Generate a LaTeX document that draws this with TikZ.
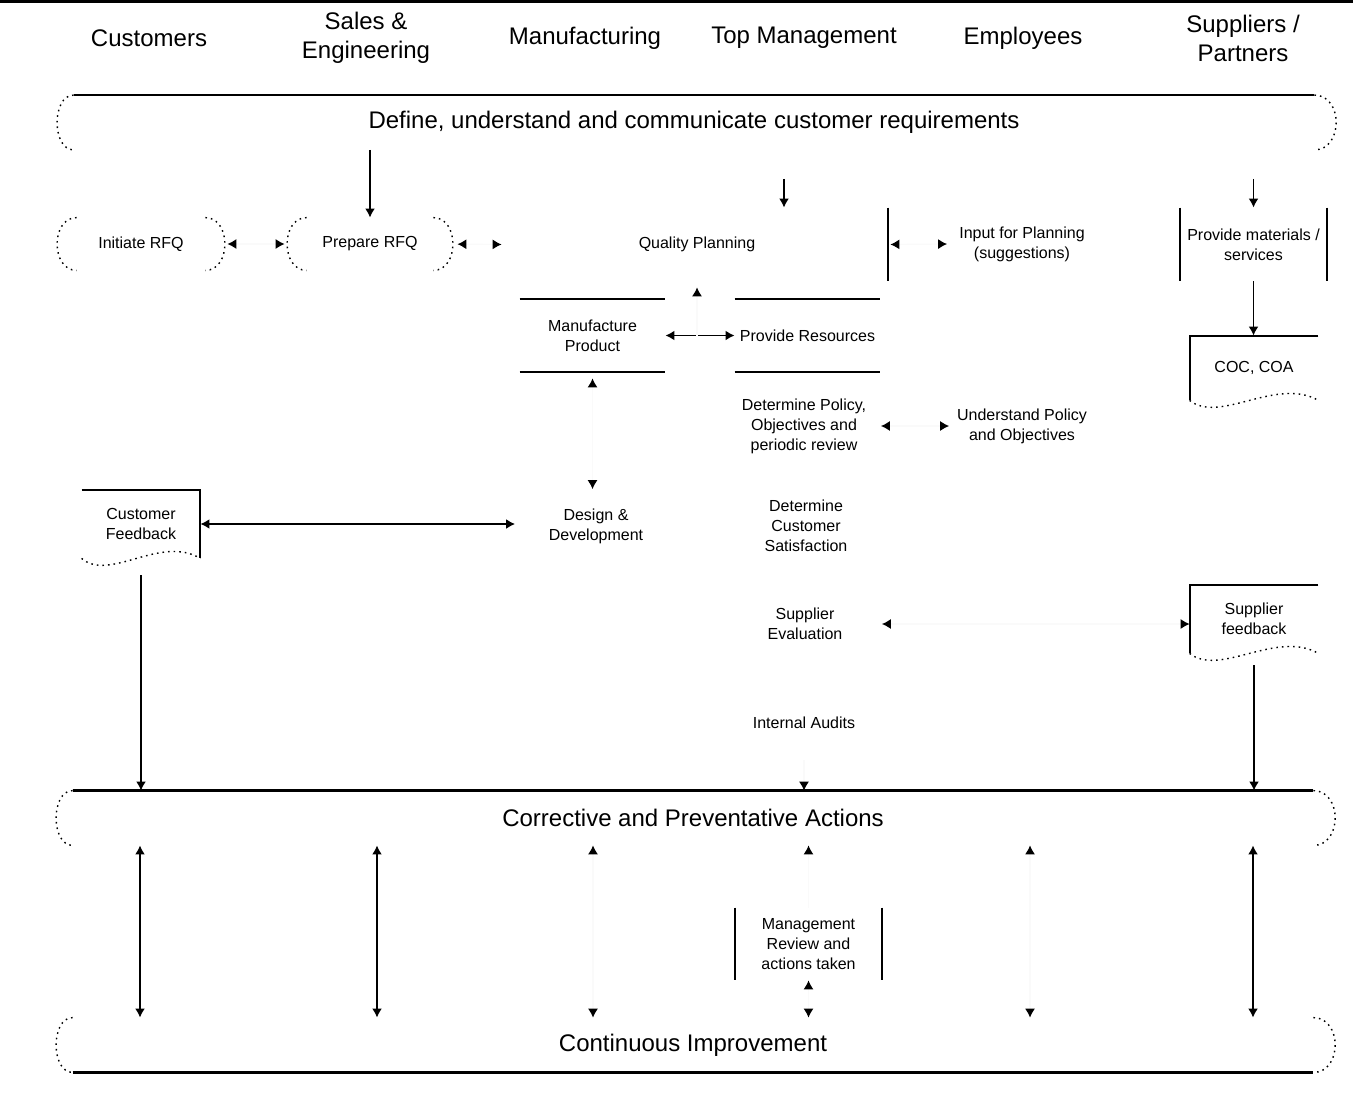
\documentclass[tikz,border=0pt]{standalone}
\usepackage{fontspec}
\setmainfont{Liberation Sans}
\usetikzlibrary{arrows.meta}

\begin{document}
\begin{tikzpicture}[x=0.5pt,y=-0.5pt,
  >={Latex[length=4.5pt,width=5pt,color=black]},
  head/.style={font=\fontsize{12}{14.5}\selectfont,align=center},
  band/.style={font=\fontsize{12}{14}\selectfont,minimum width=620pt,minimum height=27pt,inner sep=0pt},
  txt/.style={font=\fontsize{8}{10}\selectfont,align=center,inner sep=0pt,minimum width=72.5pt,minimum height=36.5pt},
  lineside/.style={line width=1pt},
  bandline/.style={line width=1.2pt},
  dots/.style={line width=0.7pt,dash pattern=on 0.8pt off 2pt},
  flow/.style={line width=0.9pt},
  ghost/.style={draw=black!2,line width=0.6pt}]
\useasboundingbox (0,0) rectangle (1353,1097);
\draw[line width=1.5pt] (0,2) -- (1353,2);
\foreach \x/\n/\t in {149/cus/Customers,366/sal/{Sales \&\\Engineering},585/man/Manufacturing,
  804/top/Top Management,1023/emp/Employees,1243/sup/{Suppliers /\\Partners}} {
   \node[head] (\n) at (\x,38) {\t};
}
\node[band] (req) at (694,122.5) {Define, understand and communicate customer requirements};
\node[band] (cpa) at (693,818) {Corrective and Preventative Actions};
\node[band] (ci) at (693,1045) {Continuous Improvement};
\draw[bandline] (req.north west) -- (req.north east);
\draw[bandline] (cpa.north west) -- (cpa.north east);
\draw[bandline] (ci.south west) -- (ci.south east);
\foreach \b in {req,cpa,ci} {
   \draw[dots] (\b.north west) .. controls +(-22,0) and +(-22,0) .. (\b.south west);
   \draw[dots] (\b.north east) .. controls +(29,0) and +(29,0) .. (\b.south east);
}
\node[txt,minimum width=64pt,minimum height=26pt] (ini) at (141,244) {Initiate RFQ};
\node[txt,minimum width=63pt,minimum height=26pt] (pre) at (370,244) {Prepare RFQ};
\foreach \b in {ini,pre} {
   \draw[dots] (\b.north west) .. controls +(-26,0) and +(-26,0) .. (\b.south west);
   \draw[dots] (\b.north east) .. controls +(26,0) and +(26,0) .. (\b.south east);
}
\node[txt,minimum width=191pt] (qp) at (697,244.5) {Quality Planning};
\node[txt] (inp) at (1022,244) {Input for Planning\\(suggestions)};
\node[txt,minimum width=73.5pt] (prm) at (1253.5,244.5) {Provide materials /\\services};
\node[txt,minimum width=64pt,minimum height=32pt] (coc) at (1254,368) {COC, COA};
\node[txt] (mfg) at (592.5,335.5) {Manufacture\\Product};
\node[txt] (res) at (807.5,335.5) {Provide Resources};
\node[txt] (pol) at (804,426) {Determine Policy,\\Objectives and\\periodic review};
\node[txt] (und) at (1022,426) {Understand Policy\\and Objectives};
\node[txt,minimum width=59pt,minimum height=34pt] (cfb) at (141,524) {Customer\\Feedback};
\node[txt] (des) at (596,526) {Design \&\\Development};
\node[txt] (sat) at (806,526) {Determine\\Customer\\Satisfaction};
\node[txt] (sev) at (805,624) {Supplier\\Evaluation};
\node[txt,minimum width=64pt,minimum height=34pt] (sfb) at (1254,619) {Supplier\\feedback};
\node[txt] (aud) at (804,723) {Internal Audits};
\node[txt,minimum width=73.5pt,minimum height=36pt] (mrv) at (808.5,944) {Management\\Review and\\actions taken};
\draw[lineside] (qp.north east) -- (qp.south east);
\draw[lineside] (prm.north west) -- (prm.south west) (prm.north east) -- (prm.south east);
\draw[lineside] (mfg.north west) -- (mfg.north east) (mfg.south west) -- (mfg.south east);
\draw[lineside] (res.north west) -- (res.north east) (res.south west) -- (res.south east);
\draw[lineside] (mrv.north west) -- (mrv.south west) (mrv.north east) -- (mrv.south east);
\draw[lineside] (cfb.north west) -- (cfb.north east) -- (cfb.south east);
\draw[dots] (cfb.south west) .. controls +(28,24) and +(-40,-24) .. (cfb.south east);
\foreach \b in {coc,sfb} {
   \draw[lineside] (\b.north east) -- (\b.north west) -- (\b.south west);
   \draw[dots] (\b.south west) .. controls +(30,24) and +(-42,-24) .. (\b.south east);
}
\coordinate (qpin) at ([xshift=43.5pt]qp.north);
\draw[flow,->] (req.south -| pre.north) -- (pre.north);
\draw[flow,->,shorten <=14.5pt] (req.south -| qpin) -- (qpin);
\draw[flow,->,shorten <=14.5pt] (req.south -| prm.north) -- (prm.north);
\draw[flow,->] (prm.south) -- (prm.south |- coc.north);
\draw[ghost,<->,shorten <=11pt,shorten >=11pt] (ini.east) -- (pre.west);
\draw[ghost,<->,shorten <=12pt,shorten >=2pt] (pre.east) -- (qp.west);
\draw[ghost,<->,shorten <=1pt,shorten >=1pt] (qp.east) -- (inp.west);
\draw[flow,<->] (mfg.east) -- (res.west);
\draw[ghost,->,shorten >=3pt] (qp.south |- mfg.east) -- (qp.south);
\draw[ghost,<->,shorten <=3pt] (mfg.south) -- (mfg.south |- des.north);
\draw[ghost,<->,shorten <=2pt] (pol.east) -- (und.west);
\draw[flow,<->,shorten >=4pt] (cfb.east) -- (cfb.east -| des.west);
\draw[flow,->,shorten <=8.5pt] (cfb.south) -- (cfb.south |- cpa.north);
\draw[ghost,<->,shorten <=2pt] (sev.east) -- (sev.east -| sfb.west);
\draw[flow,->,shorten <=6pt] (sfb.south) -- (sfb.south |- cpa.north);
\draw[ghost,->] (aud.south) -- (aud.south |- cpa.north);
\foreach \x/\s in {140/flow,377/flow,593/ghost,1030/ghost,1253/flow} {
   \draw[\s,<->] (\x,0 |- cpa.south) -- (\x,0 |- ci.north);
}
\draw[ghost,->] (mrv.north) -- (mrv.north |- cpa.south);
\draw[ghost,<->] (mrv.south) -- (mrv.south |- ci.north);
\end{tikzpicture}
\end{document}
